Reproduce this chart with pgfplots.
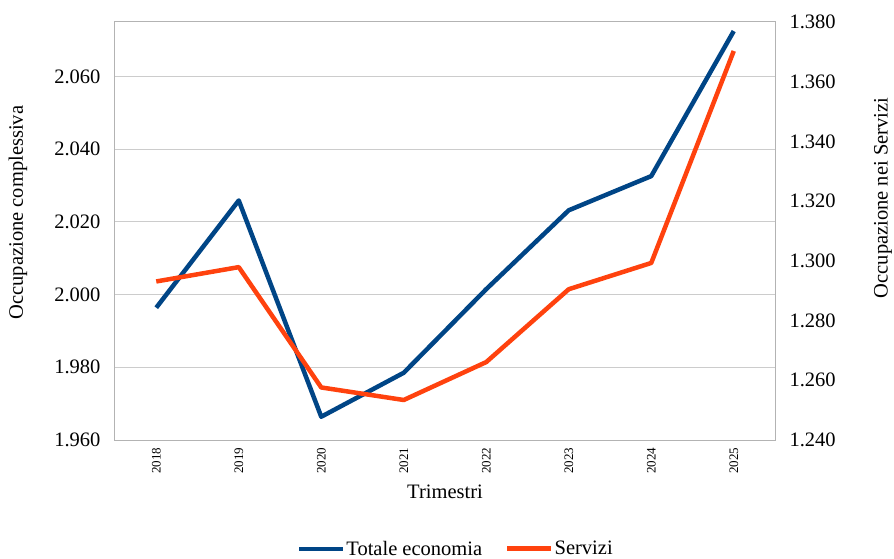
\documentclass[border=0pt]{standalone}
\usepackage{fontspec}
\setmainfont{Liberation Serif}
\usepackage{pgfplots}
\pgfplotsset{compat=1.18}
\definecolor{bluel}{HTML}{004586}
\definecolor{redl}{HTML}{FF420E}
\definecolor{gridc}{HTML}{CCCCCC}
\definecolor{framec}{HTML}{B3B3B3}
\newcommand{\bigf}{\rmfamily\fontsize{20.5}{24}\selectfont}
\begin{document}
\begin{tikzpicture}
\useasboundingbox (-115pt,-118pt) rectangle (779pt,440pt);
\pgfplotsset{
  common/.style={
    at={(0pt,0pt)}, anchor=south west,
    scale only axis, width=660pt, height=418pt,
    xmin=-0.5, xmax=7.5,
    major tick length=0pt,
    axis line style={framec, line width=1pt},
    tick label style={font=\bigf, /pgf/number format/assume math mode=true},
  }
}
\begin{axis}[common,
  ymin=1.96, ymax=2.075,
  ytick={1.96,1.98,2.00,2.02,2.04,2.06},
  yticklabels={\textrm{1.960},\textrm{1.980},\textrm{2.000},\textrm{2.020},\textrm{2.040},\textrm{2.060}},
  ymajorgrids, grid style={gridc, line width=1pt},
  yticklabel shift=11pt,
  xtick={0,...,7},
  xticklabels={\textrm{2018},\textrm{2019},\textrm{2020},\textrm{2021},\textrm{2022},\textrm{2023},\textrm{2024},\textrm{2025}},
  x tick label style={rotate=90, anchor=east, font=\rmfamily\fontsize{13}{13}\selectfont},
  xticklabel shift=4pt,
  every axis y label/.style={at={(axis description cs:-0.147,0.544)}, rotate=90, anchor=center, font=\bigf},
  ylabel={Occupazione complessiva},
  every axis x label/.style={at={(axis description cs:0.5,-0.124)}, anchor=center, font=\bigf},
  xlabel={Trimestri},
]
\addplot[bluel, line width=4.5pt, line join=round] coordinates {
(0,1.9964) (1,2.0259) (2,1.9664) (3,1.9785) (4,2.0015) (5,2.0232) (6,2.0326) (7,2.0725)};
\end{axis}
\begin{axis}[common,
  ymin=1.24, ymax=1.38,
  axis y line*=right, axis x line=none,
  ytick={1.24,1.26,1.28,1.30,1.32,1.34,1.36,1.38},
  yticklabels={\textrm{1.240},\textrm{1.260},\textrm{1.280},\textrm{1.300},\textrm{1.320},\textrm{1.340},\textrm{1.360},\textrm{1.380}},
  yticklabel shift=11pt,
  every axis y label/.style={at={(axis description cs:1.1636,0.579)}, rotate=90, anchor=center, font=\bigf},
  ylabel={Occupazione nei Servizi},
  legend columns=2,
  legend style={draw=none, fill=none, font=\bigf, at={(axis description cs:0.516,-0.26)}, anchor=center,
    inner sep=0pt, nodes={inner sep=1pt},
    /tikz/every even column/.append style={column sep=22pt}},
  legend image code/.code={\draw (0pt,0pt) -- (44pt,0pt);},
]
\addlegendimage{bluel, line width=4pt}
\addlegendentry{Totale economia}
\addplot[redl, line width=4.5pt, line join=round] coordinates {
(0,1.2931) (1,1.2979) (2,1.2576) (3,1.2534) (4,1.2661) (5,1.2905) (6,1.2993) (7,1.3703)};
\addlegendentry{Servizi}
\end{axis}
\end{tikzpicture}
\end{document}
